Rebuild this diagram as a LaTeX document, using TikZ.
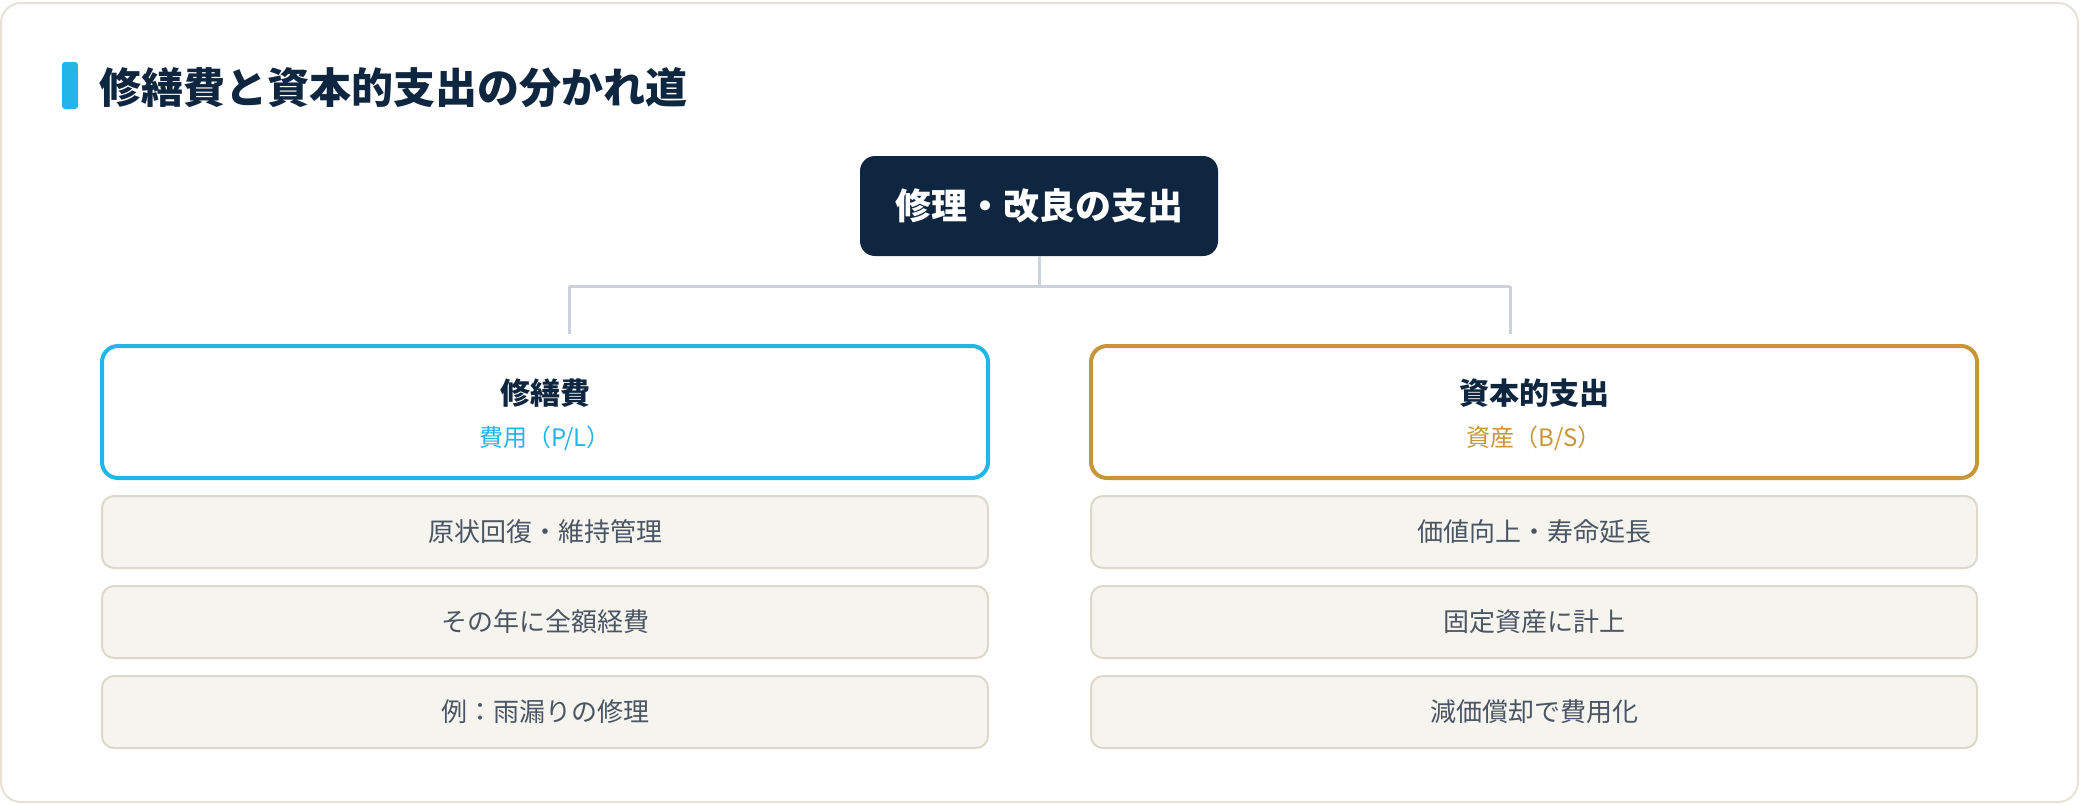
\documentclass[tikz,border=0pt]{standalone}
\usepackage{fontspec}
\setmainfont{Noto Sans CJK JP}
\usepackage{tikz}
\usetikzlibrary{positioning}

\definecolor{navy}{HTML}{0F2640}
\definecolor{sky}{HTML}{22B5E8}
\definecolor{gold}{HTML}{C8963A}
\definecolor{linkgray}{HTML}{CBD2DB}
\definecolor{paper}{HTML}{F5F4EF}
\definecolor{paperline}{HTML}{DDD8C8}
\definecolor{framebeige}{HTML}{E6E2D6}
\definecolor{itemtext}{HTML}{4B5563}

\tikzset{
  rootbox/.style={fill=navy, rounded corners=7.5pt, minimum width=179pt, minimum height=50pt,
    text=white, font=\bfseries\fontsize{18}{22}\selectfont},
  branchbox/.style={draw, line width=2pt, fill=white, rounded corners=8pt,
    minimum width=443pt, minimum height=66pt},
  itembox/.style={draw=paperline, line width=1pt, fill=paper, rounded corners=6pt,
    minimum width=443pt, minimum height=36pt, text=itemtext, font=\fontsize{13}{16}\selectfont},
  headtext/.style={text=navy, font=\bfseries\fontsize{15}{18}\selectfont},
  subtext/.style={font=\fontsize{12}{14}\selectfont},
  link/.style={draw=linkgray, line width=1.5pt}
}

\begin{document}
\begin{tikzpicture}[x=0.5pt,y=-0.5pt]
\tikzstyle{every node}+=[inner sep=0pt]
\useasboundingbox (0,0) rectangle (2080,804);
% outer card
\draw [framebeige, line width=1pt, fill=white, rounded corners=10pt] (1,3) rectangle (2078,802);
% heading
\fill [sky, rounded corners=1.5pt] (62,62) rectangle (78,109);
\node (heading) [anchor=west, text=navy, font=\bfseries\fontsize{21}{25}\selectfont] at (99,88) {修繕費と資本的支出の分かれ道};
% root
\node (root) [rootbox] at (1039,206) {修理・改良の支出};
% branches
\node (lbox) [branchbox, draw=sky] at (545,412) {};
\node (rbox) [branchbox, draw=gold] at (1534,412) {};
\node (lhead) [headtext] at (545,393) {修繕費};
\node (lsub) [subtext, text=sky] at (545,438) {費用（P/L）};
\node (rhead) [headtext] at (1534,393) {資本的支出};
\node (rsub) [subtext, text=gold] at (1534,438) {資産（B/S）};
% items
\node (l1) [itembox, below=7.5pt of lbox] {原状回復・維持管理};
\node (l2) [itembox, below=8pt of l1] {その年に全額経費};
\node (l3) [itembox, below=8pt of l2] {例：雨漏りの修理};
\node (r1) [itembox, below=7.5pt of rbox] {価値向上・寿命延長};
\node (r2) [itembox, below=8pt of r1] {固定資産に計上};
\node (r3) [itembox, below=8pt of r2] {減価償却で費用化};
% connectors
\coordinate (jl) at (569,286);
\coordinate (jr) at (1510,286);
\draw [link] (root.south) -- (root.south |- jl);
\draw [link] (jl) -- (jr);
\draw [link] (jl) -- ([yshift=5pt]jl |- lbox.north);
\draw [link] (jr) -- ([yshift=5pt]jr |- rbox.north);
\end{tikzpicture}
\end{document}
